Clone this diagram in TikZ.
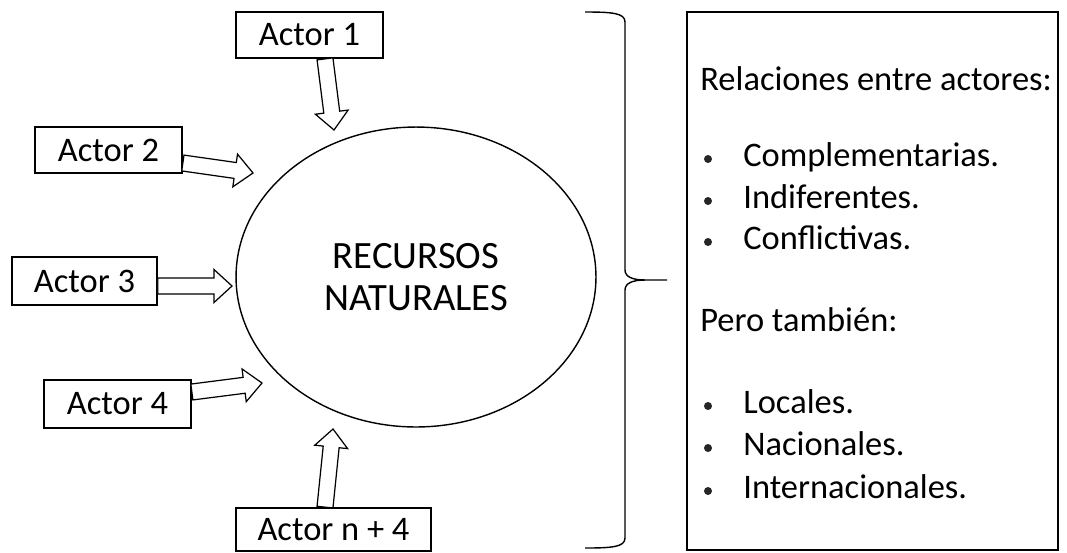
\documentclass[tikz,border=0pt]{standalone}
\usepackage{fontspec}
\setmainfont{Carlito}
\usetikzlibrary{calc}
\usetikzlibrary{shapes.geometric}
\usetikzlibrary{positioning}

\begin{document}
\begin{tikzpicture}[
    x=0.02cm, y=-0.02cm,
    font=\fontsize{19.6}{23.8}\selectfont,
    actorbox/.style={draw, line width=1pt, minimum width=2.94cm, minimum height=0.92cm, inner sep=0pt},
    blockarrow/.style={draw, fill=white, line width=0.7pt, line join=miter,
        to path={let \p1=(\tikztostart), \p2=(\tikztotarget),
            \n1={atan2(\y2-\y1,\x2-\x1)}, \n2={veclen(\x2-\x1,\y2-\y1)} in
            {[shift={(\p1)}, rotate=\n1]
            (0pt, 0.16cm) -- (\n2-0.36cm, 0.16cm) -- (\n2-0.36cm, 0.33cm) -- (\n2, 0pt)
            -- (\n2-0.36cm, -0.33cm) -- (\n2-0.36cm, -0.16cm) -- (0pt, -0.16cm) -- cycle}}},
    itemtext/.style={anchor=base west, inner sep=0pt},
    bulletdot/.style={circle, fill=black!85, inner sep=0pt, minimum size=0.16cm},
]
    \useasboundingbox (0, 0) rectangle (1067, 552);

    % Recursos naturales
    \node (recursos) at (416, 277) [ellipse, draw, line width=0.8pt, minimum width=7.2cm, minimum height=6cm, align=center, font=\fontsize{22}{23.8}\selectfont]{RECURSOS\\NATURALES};

    % Actor 1
    \node (actor1) at (309.5, 35) [actorbox]{Actor 1};
    \coordinate (tip1) at (334, 130);
    \draw [blockarrow] ($(actor1.south)+(15.5, 0)$) to (tip1);

    % Actor 2
    \node (actor2) at (108.5, 150) [actorbox]{Actor 2};
    \coordinate (tip2) at (253, 173);
    \draw [blockarrow] ($(actor2.east)+(0, 13)$) to (tip2);

    % Actor 3
    \node (actor3) at (84.5, 281) [actorbox, minimum width=2.9cm, minimum height=0.96cm]{Actor 3};
    \coordinate (tip3) at (232, 286);
    \draw [blockarrow] ($(actor3.east)+(0, 5)$) to (tip3);

    % Actor 4
    \node (actor4) at (117.5, 404) [actorbox, minimum height=0.96cm]{Actor 4};
    \coordinate (tip4) at (262, 383);
    \draw [blockarrow] ($(actor4.east)+(0, -12)$) to (tip4);

    % Actor n + 4
    \node (actorn) at (333.5, 529.5) [actorbox, minimum width=3.9cm, minimum height=0.86cm]{Actor n + 4};
    \coordinate (tipn) at (333, 429);
    \draw [blockarrow] ($(actorn.north)+(-8.5, 0)$) to (tipn);

    % Llave
    \draw [line width=0.8pt] (585, 12) .. controls (612, 12) and (625, 13) .. (625, 22) -- (625, 270)
        .. controls (625, 277) and (633, 280) .. (645, 280) -- (667, 280);
    \draw [line width=0.8pt] (645, 280) .. controls (633, 280) and (625, 283) .. (625, 290) -- (625, 538)
        .. controls (625, 547) and (612, 548) .. (585, 548);

    % Relaciones
    \node (relbox) at (872.5, 281) [draw, line width=1pt, minimum width=7.42cm, minimum height=10.76cm]{};
    \node (relaciones) at (700, 90) [itemtext]{Relaciones entre actores:};
    \node (bul1) at (708, 159) [bulletdot]{};
    \node (complementarias) at (743, 166) [itemtext]{Complementarias.};
    \node (bul2) at (708, 201) [bulletdot]{};
    \node (indiferentes) at (743, 208) [itemtext]{Indiferentes.};
    \node (bul3) at (708, 242) [bulletdot]{};
    \node (conflictivas) at (743, 249) [itemtext]{Conflictivas.};
    \node (pero) at (700, 331) [itemtext]{Pero también:};
    \node (bul4) at (708, 406) [bulletdot]{};
    \node (locales) at (743, 413) [itemtext]{Locales.};
    \node (bul5) at (708, 448) [bulletdot]{};
    \node (nacionales) at (743, 455) [itemtext]{Nacionales.};
    \node (bul6) at (708, 491) [bulletdot]{};
    \node (internacionales) at (743, 498) [itemtext]{Internacionales.};

\end{tikzpicture}
\end{document}
